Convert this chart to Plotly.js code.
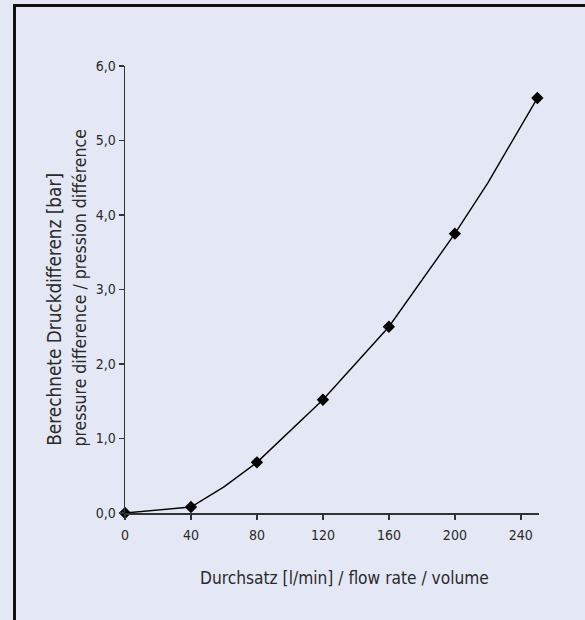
<!DOCTYPE html>
<html>
<head>
<meta charset="utf-8">
<script src="https://cdn.plot.ly/plotly-3.0.1.min.js"></script>
<style>
  html, body { margin: 0; padding: 0; background: #e4e8f4; width: 585px; height: 620px; overflow: hidden; }
  #frame { position: absolute; left: 13px; top: 4px; width: 580px; height: 620px;
           border-left: 3px solid #111; border-top: 3px solid #111; }
  #chart { position: absolute; left: 0; top: 0; width: 585px; height: 620px; }
</style>
</head>
<body>
<div id="frame"></div>
<div id="chart"></div>
<script>
// Measured points (markers)
const flowRate = [0, 40, 80, 120, 160, 200, 250];
const pressureDiff = [0.0, 0.08, 0.68, 1.52, 2.50, 3.75, 5.57];
// Curve through points (with intermediate vertices)
const curveFlow = [0, 40, 60, 80, 120, 160, 200, 220, 250];
const curvePressure = [0.0, 0.08, 0.35, 0.68, 1.52, 2.50, 3.75, 4.43, 5.57];
// Ticks
const xTicks = [0, 40, 80, 120, 160, 200, 240];
const yTicks = [0, 1, 2, 3, 4, 5, 6];
const xTitle = 'Durchsatz [l/min] / flow rate / volume';
const yTitleLine1 = 'Berechnete Druckdifferenz [bar]';
const yTitleLine2 = 'pressure difference / pression différence';

const FONT = '"Liberation Sans Narrow", "DejaVu Sans Condensed", "Arial Narrow", sans-serif';
const TXT = '#2a2a2a';

const traces = [
  { x: curveFlow, y: curvePressure, type: 'scatter', mode: 'lines',
    line: { color: '#000', width: 1.4 }, hoverinfo: 'skip', cliponaxis: false },
  { x: flowRate, y: pressureDiff, type: 'scatter', mode: 'markers',
    marker: { symbol: 'diamond', size: 9.5, color: '#000' }, cliponaxis: false }
];

const axisCommon = {
  showgrid: false, zeroline: false, showline: true, linecolor: '#333', linewidth: 1.5,
  ticks: 'outside', ticklen: 5, tickwidth: 1.5, tickcolor: '#333',
  tickfont: { family: FONT, size: 14, color: TXT }, fixedrange: true
};

const layout = {
  width: 585, height: 620,
  paper_bgcolor: 'rgba(0,0,0,0)', plot_bgcolor: 'rgba(0,0,0,0)',
  margin: { l: 125, r: 46, t: 66, b: 107 },
  showlegend: false,
  separators: ',.',
  font: { family: FONT, color: TXT },
  xaxis: Object.assign({}, axisCommon, {
    range: [0, 251], tickvals: xTicks, ticktext: xTicks.map(String), ticklabelstandoff: 4
  }),
  yaxis: Object.assign({}, axisCommon, {
    range: [0, 6], tickvals: yTicks, tickformat: '.1f'
  }),
  annotations: [
    { text: xTitle, xref: 'paper', yref: 'paper', x: 0.529, y: -0.145,
      xanchor: 'center', yanchor: 'middle', showarrow: false,
      font: { family: FONT, size: 17.2, color: TXT } },
    { text: yTitleLine1, xref: 'paper', yref: 'paper', x: -0.169, y: 0.145,
      xanchor: 'center', yanchor: 'bottom', showarrow: false, textangle: -90,
      font: { family: FONT, size: 18.8, color: TXT } },
    { text: yTitleLine2, xref: 'paper', yref: 'paper', x: -0.109, y: 0.145,
      xanchor: 'center', yanchor: 'bottom', showarrow: false, textangle: -90,
      font: { family: FONT, size: 17.5, color: TXT } }
  ]
};

Plotly.newPlot('chart', traces, layout, { displayModeBar: false, staticPlot: true });
</script>
</body>
</html>
